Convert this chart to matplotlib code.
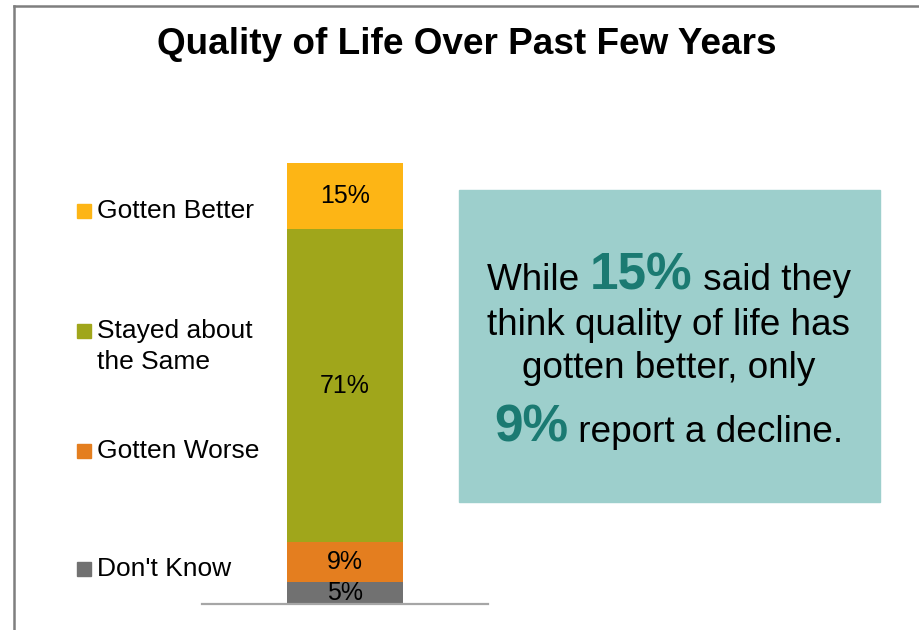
import matplotlib
matplotlib.use("Agg")
import matplotlib.pyplot as plt
from matplotlib.patches import Rectangle
from matplotlib.lines import Line2D

plt.rcParams['font.family'] = ['Liberation Sans', 'DejaVu Sans']

# ---- data ----
title = "Quality of Life Over Past Few Years"
categories = ["Don't Know", "Gotten Worse", "Stayed about\nthe Same", "Gotten Better"]
values = [5, 9, 71, 15]
colors = ["#717171", "#E47E1F", "#A0A61B", "#FDB515"]
box_lines = [
    [("While ", False), ("15%", True), (" said they", False)],
    [("think quality of life has", False)],
    [("gotten better, only", False)],
    [("9%", True), (" report a decline.", False)],
]

W, H = 919, 630
fig = plt.figure(figsize=(W / 100, H / 100), dpi=100)
fig.patch.set_facecolor("white")


def fx(x):
    return x / W


def fy(y):
    return 1 - y / H


# border
fig.add_artist(Line2D([fx(14), fx(14)], [fy(6), fy(630)], color="#7F7F7F", lw=1.8))
fig.add_artist(Line2D([fx(14), fx(919)], [fy(6), fy(6)], color="#7F7F7F", lw=1.8))

# title
fig.text(fx(467), fy(54), title, ha="center", va="baseline",
         fontsize=26.6, fontweight="bold", color="black")

# axes with stacked bar
ax = fig.add_axes([fx(202), fy(604), (488 - 202) / W, 441 / H])
ax.set_xlim(-1.233, 1.233)
ax.set_ylim(0, 100)
bottom = 0
for cat, v, c in zip(categories, values, colors):
    ax.bar(0, v, width=1.0, bottom=bottom, color=c, edgecolor="none", zorder=2)
    ax.text(0, bottom + v / 2, f"{v}%", ha="center", va="center",
            fontsize=18, color="black", zorder=3)
    bottom += v
for s in ["top", "left", "right"]:
    ax.spines[s].set_visible(False)
ax.spines["bottom"].set_color("#A6A6A6")
ax.spines["bottom"].set_linewidth(1.6)
ax.spines["bottom"].set_zorder(4)
ax.set_xticks([])
ax.set_yticks([])
ax.patch.set_alpha(0)

# legend (manually placed, ordered top to bottom)
legend_baselines = [576, 458, 338, 218]
for cat, c, yb in zip(categories, colors, legend_baselines):
    fig.add_artist(Rectangle((fx(77), fy(yb)), 14 / W, 14 / H,
                             transform=fig.transFigure, color=c))
    for i, line in enumerate(cat.split("\n")):
        fig.text(fx(97), fy(yb + i * 31), line, ha="left", va="baseline",
                 fontsize=19, color="black")

# text box
fig.add_artist(Rectangle((fx(459), fy(502)), (880 - 459) / W, (502 - 190) / H,
                         transform=fig.transFigure, color="#9DCFCC", zorder=1))

line_baselines = [290, 335, 378, 442]
cx = 669
renderer = fig.canvas.get_renderer()
for parts, yb in zip(box_lines, line_baselines):
    texts = []
    for s, big in parts:
        if big:
            t = fig.text(0, fy(yb), s, ha="left", va="baseline", fontsize=37,
                         fontweight="bold", color="#1B7A72", zorder=2)
        else:
            t = fig.text(0, fy(yb), s, ha="left", va="baseline", fontsize=26.6,
                         color="black", zorder=2)
        texts.append(t)
    widths = [t.get_window_extent(renderer).width for t in texts]
    total = sum(widths)
    x = cx - total / 2
    for t, w in zip(texts, widths):
        t.set_x(fx(x))
        x += w

fig.savefig("out.png", dpi=100)
